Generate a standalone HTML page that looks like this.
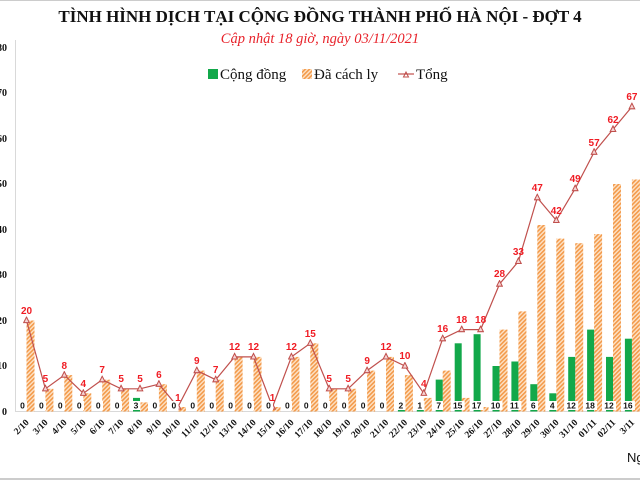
<!DOCTYPE html>
<html><head><meta charset="utf-8"><style>
html,body{margin:0;padding:0;background:#fff;}
svg{display:block;}
</style></head><body>
<svg width="640" height="480" xmlns="http://www.w3.org/2000/svg" font-family="Liberation Serif, serif">
<defs>
<pattern id="h" width="3" height="3" patternUnits="userSpaceOnUse" patternTransform="rotate(45)">
<rect width="3" height="3" fill="#fde3c8"/>
<rect width="1.6" height="3" fill="#f39a4a"/>
</pattern>
<marker id="tri" viewBox="0 0 10 10" refX="5" refY="6" markerWidth="7" markerHeight="7" markerUnits="userSpaceOnUse">
<path d="M1 9 L5 1 L9 9 Z" fill="#f6d5d5" stroke="#c0504d" stroke-width="1.5"/>
</marker>
</defs>
<rect x="0" y="0" width="640" height="1" fill="#ccc"/>
<rect x="0" y="478" width="640" height="2" fill="#ccc"/>
<text x="320" y="22" text-anchor="middle" font-size="17" font-weight="bold" fill="#111">TÌNH HÌNH DỊCH TẠI CỘNG ĐỒNG THÀNH PHỐ HÀ NỘI - ĐỢT 4</text>
<text x="320" y="43" text-anchor="middle" font-size="14.5" font-style="italic" fill="#e8232b">Cập nhật 18 giờ, ngày 03/11/2021</text>
<rect x="208" y="69" width="10" height="10" fill="#12a84a"/>
<text x="220" y="79" font-size="15" fill="#111">Cộng đồng</text>
<rect x="302" y="69" width="10" height="10" fill="url(#h)"/>
<text x="314" y="79" font-size="15" fill="#111">Đã cách ly</text>
<line x1="398" y1="74" x2="414" y2="74" stroke="#c0504d" stroke-width="1.2"/>
<path d="M403.5 77 L406 72 L408.5 77 Z" fill="none" stroke="#c0504d" stroke-width="1"/>
<text x="416" y="79" font-size="15" fill="#111">Tổng</text>
<g font-size="10" font-weight="bold" fill="#111">
<text x="-3" y="51">80</text><text x="-3" y="96">70</text><text x="-3" y="142">60</text><text x="-3" y="187">50</text><text x="-3" y="233">40</text><text x="-3" y="278">30</text><text x="-3" y="324">20</text><text x="-3" y="369">10</text><text x="2" y="415">0</text>
</g>
<line x1="15.5" y1="40" x2="15.5" y2="412" stroke="#d9d9d9"/>
<line x1="15" y1="411.5" x2="640" y2="411.5" stroke="#d9d9d9"/>
<g fill="url(#h)">
<rect x="26.5" y="320.5" width="8" height="91"/>
<rect x="45.4" y="388.8" width="8" height="22.7"/>
<rect x="64.3" y="375.1" width="8" height="36.4"/>
<rect x="83.3" y="393.3" width="8" height="18.2"/>
<rect x="102.2" y="379.7" width="8" height="31.8"/>
<rect x="121.1" y="388.8" width="8" height="22.7"/>
<rect x="140" y="402.4" width="8" height="9.1"/>
<rect x="158.9" y="384.2" width="8" height="27.3"/>
<rect x="177.9" y="407" width="8" height="4.5"/>
<rect x="196.8" y="370.6" width="8" height="40.9"/>
<rect x="215.7" y="379.7" width="8" height="31.8"/>
<rect x="234.6" y="356.9" width="8" height="54.6"/>
<rect x="253.5" y="356.9" width="8" height="54.6"/>
<rect x="272.5" y="407" width="8" height="4.5"/>
<rect x="291.4" y="356.9" width="8" height="54.6"/>
<rect x="310.3" y="343.3" width="8" height="68.2"/>
<rect x="329.2" y="388.8" width="8" height="22.7"/>
<rect x="348.1" y="388.8" width="8" height="22.7"/>
<rect x="367.1" y="370.6" width="8" height="40.9"/>
<rect x="386" y="356.9" width="8" height="54.6"/>
<rect x="404.9" y="375.1" width="8" height="36.4"/>
<rect x="423.8" y="397.9" width="8" height="13.6"/>
<rect x="442.7" y="370.6" width="8" height="40.9"/>
<rect x="461.7" y="397.9" width="8" height="13.6"/>
<rect x="480.6" y="407" width="8" height="4.5"/>
<rect x="499.5" y="329.6" width="8" height="81.9"/>
<rect x="518.4" y="311.4" width="8" height="100.1"/>
<rect x="537.3" y="225" width="8" height="186.5"/>
<rect x="556.3" y="238.6" width="8" height="172.9"/>
<rect x="575.2" y="243.2" width="8" height="168.3"/>
<rect x="594.1" y="234.1" width="8" height="177.4"/>
<rect x="613" y="184" width="8" height="227.5"/>
<rect x="631.9" y="179.5" width="8" height="232"/>
</g>
<g fill="#12a84a">
<rect x="133" y="397.9" width="7" height="13.6"/>
<rect x="397.9" y="402.4" width="7" height="9.1"/>
<rect x="416.8" y="407" width="7" height="4.5"/>
<rect x="435.7" y="379.6" width="7" height="31.9"/>
<rect x="454.7" y="343.3" width="7" height="68.2"/>
<rect x="473.6" y="334.2" width="7" height="77.3"/>
<rect x="492.5" y="366" width="7" height="45.5"/>
<rect x="511.4" y="361.5" width="7" height="50"/>
<rect x="530.3" y="384.2" width="7" height="27.3"/>
<rect x="549.3" y="393.3" width="7" height="18.2"/>
<rect x="568.2" y="356.9" width="7" height="54.6"/>
<rect x="587.1" y="329.6" width="7" height="81.9"/>
<rect x="606" y="356.9" width="7" height="54.6"/>
<rect x="624.9" y="338.7" width="7" height="72.8"/>
</g>
<polyline fill="none" stroke="#c0504d" stroke-width="1.2" marker-start="url(#tri)" marker-mid="url(#tri)" marker-end="url(#tri)" points="26.5,320.5 45.4,388.8 64.3,375.1 83.3,393.3 102.2,379.7 121.1,388.8 140,388.8 158.9,384.2 177.9,407 196.8,370.6 215.7,379.7 234.6,356.9 253.5,356.9 272.5,407 291.4,356.9 310.3,343.3 329.2,388.8 348.1,388.8 367.1,370.6 386,356.9 404.9,366 423.8,393.3 442.7,338.7 461.7,329.6 480.6,329.6 499.5,284.1 518.4,261.4 537.3,197.7 556.3,220.4 575.2,188.6 594.1,152.2 613,129.4 631.9,106.7"/>
<g fill="#fff">
<rect x="18" y="401" width="9" height="9"/><rect x="37" y="401" width="9" height="9"/><rect x="56" y="401" width="9" height="9"/><rect x="75" y="401" width="9" height="9"/><rect x="94" y="401" width="9" height="9"/><rect x="113" y="401" width="9" height="9"/><rect x="131.5" y="401" width="9" height="9"/><rect x="150.5" y="401" width="9" height="9"/><rect x="169.5" y="401" width="9" height="9"/><rect x="188.5" y="401" width="9" height="9"/><rect x="207" y="401" width="9" height="9"/><rect x="226" y="401" width="9" height="9"/><rect x="245" y="401" width="9" height="9"/><rect x="264" y="401" width="9" height="9"/><rect x="283" y="401" width="9" height="9"/><rect x="302" y="401" width="9" height="9"/><rect x="321" y="401" width="9" height="9"/><rect x="339.5" y="401" width="9" height="9"/><rect x="358.5" y="401" width="9" height="9"/><rect x="377.5" y="401" width="9" height="9"/><rect x="396.5" y="401" width="9" height="9"/><rect x="415.5" y="401" width="9" height="9"/><rect x="434" y="401" width="9" height="9"/><rect x="450.7" y="401" width="14" height="9"/><rect x="469.6" y="401" width="14" height="9"/><rect x="488.5" y="401" width="14" height="9"/><rect x="507.4" y="401" width="14" height="9"/><rect x="529" y="401" width="9" height="9"/><rect x="548" y="401" width="9" height="9"/><rect x="564.2" y="401" width="14" height="9"/><rect x="583.1" y="401" width="14" height="9"/><rect x="602" y="401" width="14" height="9"/><rect x="620.9" y="401" width="14" height="9"/>
</g>
<g font-family="Liberation Sans, sans-serif" font-size="8.5" font-weight="bold" fill="#111" text-anchor="middle">
<text x="22.5" y="408.5">0</text><text x="41.4" y="408.5">0</text><text x="60.3" y="408.5">0</text><text x="79.3" y="408.5">0</text><text x="98.2" y="408.5">0</text><text x="117.1" y="408.5">0</text><text x="136" y="408.5">3</text><text x="154.9" y="408.5">0</text><text x="173.9" y="408.5">0</text><text x="192.8" y="408.5">0</text><text x="211.7" y="408.5">0</text><text x="230.6" y="408.5">0</text><text x="249.5" y="408.5">0</text><text x="268.5" y="408.5">0</text><text x="287.4" y="408.5">0</text><text x="306.3" y="408.5">0</text><text x="325.2" y="408.5">0</text><text x="344.1" y="408.5">0</text><text x="363.1" y="408.5">0</text><text x="382" y="408.5">0</text><text x="400.9" y="408.5">2</text><text x="419.8" y="408.5">1</text><text x="438.7" y="408.5">7</text><text x="457.7" y="408.5">15</text><text x="476.6" y="408.5">17</text><text x="495.5" y="408.5">10</text><text x="514.4" y="408.5">11</text><text x="533.3" y="408.5">6</text><text x="552.3" y="408.5">4</text><text x="571.2" y="408.5">12</text><text x="590.1" y="408.5">18</text><text x="609" y="408.5">12</text><text x="627.9" y="408.5">16</text>
</g>
<g font-family="Liberation Sans, sans-serif" font-size="10" font-weight="bold" fill="#f01c24" text-anchor="middle">
<text x="26.5" y="314">20</text><text x="45.4" y="382">5</text><text x="64.3" y="369">8</text><text x="83.3" y="387">4</text><text x="102.2" y="373">7</text><text x="121.1" y="382">5</text><text x="140" y="382">5</text><text x="158.9" y="378">6</text><text x="177.9" y="401">1</text><text x="196.8" y="364">9</text><text x="215.7" y="373">7</text><text x="234.6" y="350">12</text><text x="253.5" y="350">12</text><text x="272.5" y="401">1</text><text x="291.4" y="350">12</text><text x="310.3" y="337">15</text><text x="329.2" y="382">5</text><text x="348.1" y="382">5</text><text x="367.1" y="364">9</text><text x="386" y="350">12</text><text x="404.9" y="359">10</text><text x="423.8" y="387">4</text><text x="442.7" y="332">16</text><text x="461.7" y="323">18</text><text x="480.6" y="323">18</text><text x="499.5" y="277">28</text><text x="518.4" y="255">33</text><text x="537.3" y="191">47</text><text x="556.3" y="214">42</text><text x="575.2" y="182">49</text><text x="594.1" y="146">57</text><text x="613" y="123">62</text><text x="631.9" y="100">67</text>
</g>
<g font-size="9.5" font-weight="bold" fill="#111" text-anchor="end">
<text transform="translate(29.5,423) rotate(-45)">2/10</text>
<text transform="translate(48.4,423) rotate(-45)">3/10</text>
<text transform="translate(67.3,423) rotate(-45)">4/10</text>
<text transform="translate(86.3,423) rotate(-45)">5/10</text>
<text transform="translate(105.2,423) rotate(-45)">6/10</text>
<text transform="translate(124.1,423) rotate(-45)">7/10</text>
<text transform="translate(143,423) rotate(-45)">8/10</text>
<text transform="translate(161.9,423) rotate(-45)">9/10</text>
<text transform="translate(180.9,423) rotate(-45)">10/10</text>
<text transform="translate(199.8,423) rotate(-45)">11/10</text>
<text transform="translate(218.7,423) rotate(-45)">12/10</text>
<text transform="translate(237.6,423) rotate(-45)">13/10</text>
<text transform="translate(256.5,423) rotate(-45)">14/10</text>
<text transform="translate(275.5,423) rotate(-45)">15/10</text>
<text transform="translate(294.4,423) rotate(-45)">16/10</text>
<text transform="translate(313.3,423) rotate(-45)">17/10</text>
<text transform="translate(332.2,423) rotate(-45)">18/10</text>
<text transform="translate(351.1,423) rotate(-45)">19/10</text>
<text transform="translate(370.1,423) rotate(-45)">20/10</text>
<text transform="translate(389,423) rotate(-45)">21/10</text>
<text transform="translate(407.9,423) rotate(-45)">22/10</text>
<text transform="translate(426.8,423) rotate(-45)">23/10</text>
<text transform="translate(445.7,423) rotate(-45)">24/10</text>
<text transform="translate(464.7,423) rotate(-45)">25/10</text>
<text transform="translate(483.6,423) rotate(-45)">26/10</text>
<text transform="translate(502.5,423) rotate(-45)">27/10</text>
<text transform="translate(521.4,423) rotate(-45)">28/10</text>
<text transform="translate(540.3,423) rotate(-45)">29/10</text>
<text transform="translate(559.3,423) rotate(-45)">30/10</text>
<text transform="translate(578.2,423) rotate(-45)">31/10</text>
<text transform="translate(597.1,423) rotate(-45)">01/11</text>
<text transform="translate(616,423) rotate(-45)">02/11</text>
<text transform="translate(634.9,423) rotate(-45)">3/11</text>
</g>
<text x="627" y="462" font-family="Liberation Sans, sans-serif" font-size="13" fill="#111">Ng</text>
</svg>
</body></html>
